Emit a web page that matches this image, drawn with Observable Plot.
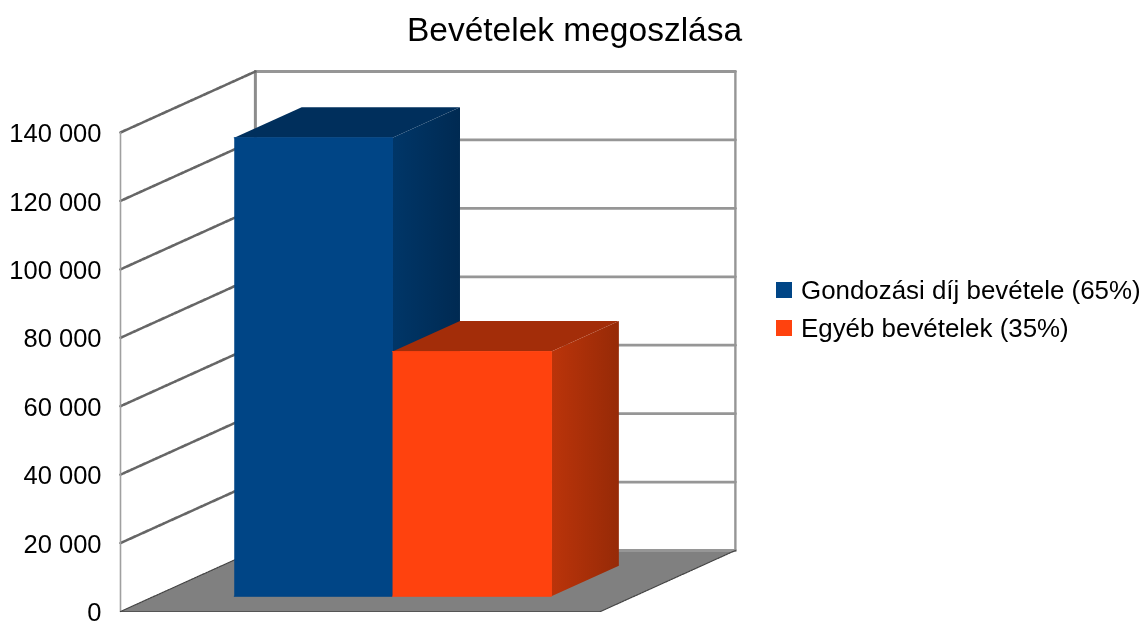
<!DOCTYPE html>
<html lang="hu">
<head>
<meta charset="utf-8">
<script src="https://cdn.jsdelivr.net/npm/d3@7"></script>
<script src="https://cdn.jsdelivr.net/npm/@observablehq/plot@0.6"></script>
<style>
  html, body { margin: 0; padding: 0; background: #fff; overflow: hidden; }
  body { width: 1144px; height: 622px; position: relative; font-family: "Liberation Sans", Arial, sans-serif; color: #000; filter: blur(0.5px); }
  #title { position: absolute; left: 0; top: 0; width: 1149px; height: 60px; line-height: 60px; text-align: center; font-size: 33.5px; }
  #chart { position: absolute; left: 0; top: 58px; }
  #legend { position: absolute; left: 776px; top: 271px; font-size: 25.9px; line-height: 38px; white-space: nowrap; }
  #legend .row { display: flex; align-items: center; height: 38px; }
  #legend .sw { display: inline-block; width: 16px; height: 16px; margin-right: 9px; }
</style>
</head>
<body>
<div id="title"></div>
<div id="chart"></div>
<div id="legend"></div>
<script>
const chartTitle = "Bevételek megoszlása";
const seriesNames = ["Gondozási díj bevétele (65%)", "Egyéb bevételek (35%)"];
const seriesValues = [134000, 71500];
const seriesFront = ["#004586", "#ff420e"];
const seriesTop = ["#002f5c", "#a32d09"];
const seriesSideStart = ["#003668", "#bb340a"];
const seriesSideEnd = ["#002a52", "#962a07"];
const tickValues = [0, 20000, 40000, 60000, 80000, 100000, 120000, 140000];
const tickLabels = ["0", "20 000", "40 000", "60 000", "80 000", "100 000", "120 000", "140 000"];
const barEdges = [0.1667, 0.4965, 0.8275];
const yMax = 140000;
const depthX = 0.281;    // back wall shift, in x-scale units
const depthY = 17830;    // back wall shift, in value units
const barDepth = [0.25, 0.75];

const project = (x, v, d) => ({x: x + d * depthX, y: v + d * depthY});
const face = (corners, fill, extra = {}) =>
  Plot.line(corners.map(([x, v, d]) => project(x, v, d)),
    {x: "x", y: "y", fill, stroke: "none", ...extra});

const wallGrid = tickValues.slice(1).flatMap(v => [
  {...project(0, v, 0), v}, {...project(0, v, 1), v}
]);
const backGrid = tickValues.flatMap(v => [
  {...project(0, v, 1), v}, {...project(1, v, 1), v}
]);

const defs = () => {
  const d = d3.create("svg:defs");
  seriesNames.forEach((_, i) => {
    const g = d.append("linearGradient").attr("id", "side" + i)
      .attr("x1", 0).attr("x2", 1).attr("y1", 0).attr("y2", 0);
    g.append("stop").attr("offset", 0).attr("stop-color", seriesSideStart[i]);
    g.append("stop").attr("offset", 1).attr("stop-color", seriesSideEnd[i]);
  });
  return d.node();
};

const barMarks = seriesValues.flatMap((v, i) => {
  const x0 = barEdges[i], x1 = barEdges[i + 1], [d0, d1] = barDepth;
  return [
    face([[x0, v, d0], [x1, v, d0], [x1, v, d1], [x0, v, d1]], seriesTop[i]),
    face([[x1, 0, d0], [x1, v, d0], [x1, v, d1], [x1, 0, d1]], `url(#side${i})`),
    face([[x0, 0, d0], [x1, 0, d0], [x1, v, d0], [x0, v, d0]], seriesFront[i],
      {stroke: seriesFront[i], strokeWidth: 1, strokeLinejoin: "round"})
  ];
});

const plot = Plot.plot({
  width: 760,
  height: 564,
  marginLeft: 120,
  marginRight: 160,
  marginTop: 74,
  marginBottom: 11,
  x: {domain: [0, 1], axis: null},
  y: {domain: [0, yMax]},
  style: {background: "transparent", overflow: "visible", fontFamily: "Liberation Sans, Arial, sans-serif"},
  marks: [
    defs,
    // floor
    face([[0, 0, 0], [1, 0, 0], [1, 0, 1], [0, 0, 1]], "#808080"),
    // back wall grid and frame
    Plot.line(backGrid, {x: "x", y: "y", z: "v", stroke: "#969696", strokeWidth: 2.8}),
    Plot.line([project(0, 0, 1), project(0, yMax, 1)], {x: "x", y: "y", stroke: "#8c8c8c", strokeWidth: 3}),
    Plot.line([project(1, 0, 1), project(1, yMax, 1)], {x: "x", y: "y", stroke: "#969696", strokeWidth: 2.4}),
    // side wall grid and edge
    Plot.line(wallGrid, {x: "x", y: "y", z: "v", stroke: "#666666", strokeWidth: 2.6, strokeDasharray: "2.5 1"}),
    Plot.line([project(0, 0, 0), project(0, yMax, 0)], {x: "x", y: "y", stroke: "#a0a0a0", strokeWidth: 1.6}),
    // floor edges
    Plot.line([project(0, 0, 0), project(1, 0, 0)], {x: "x", y: "y", stroke: "#555555", strokeWidth: 1.2}),
    Plot.line([project(0, 0, 0), project(0, 0, 1)], {x: "x", y: "y", stroke: "#444444", strokeWidth: 1.2, strokeDasharray: "2 1"}),
    Plot.line([project(1, 0, 0), project(1, 0, 1)], {x: "x", y: "y", stroke: "#444444", strokeWidth: 1.2, strokeDasharray: "2 1"}),
    ...barMarks,
    Plot.axisY({
      ticks: tickValues,
      tickFormat: v => tickLabels[tickValues.indexOf(v)],
      tickSize: 0,
      tickPadding: 19,
      fontSize: 25.5,
      label: null,
      dy: 1.5
    })
  ]
});
document.getElementById("chart").append(plot);
document.getElementById("title").textContent = chartTitle;
document.getElementById("legend").innerHTML = seriesNames.map((n, i) =>
  `<div class="row"><span class="sw" style="background:${seriesFront[i]}"></span><span>${n}</span></div>`).join("");
</script>
</body>
</html>
